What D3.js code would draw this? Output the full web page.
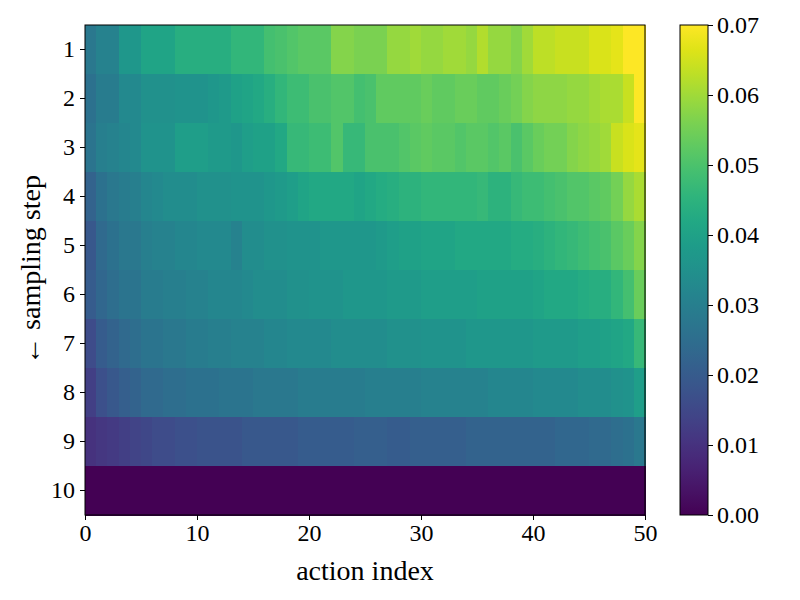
<!DOCTYPE html>
<html><head><meta charset="utf-8">
<script src="https://cdn.jsdelivr.net/npm/d3@7"></script>
<style>body{margin:0;background:#fff}text{font-family:"Liberation Serif",serif}</style>
</head><body><svg id="c" width="800" height="600"></svg>
<script>
const rowLabels=["1","2","3","4","5","6","7","8","9","10"];
const row1=[0.028,0.031,0.031,0.037,0.037,0.041,0.041,0.041,0.044,0.044,0.044,0.044,0.044,0.046,0.046,0.046,0.049,0.050,0.051,0.052,0.052,0.052,0.057,0.057,0.056,0.056,0.056,0.059,0.059,0.060,0.059,0.059,0.060,0.060,0.059,0.062,0.059,0.059,0.057,0.060,0.063,0.063,0.064,0.064,0.064,0.066,0.066,0.067,0.070,0.070];
const row2=[0.026,0.029,0.029,0.033,0.033,0.035,0.035,0.035,0.036,0.036,0.036,0.037,0.038,0.040,0.041,0.042,0.044,0.046,0.048,0.048,0.050,0.050,0.051,0.051,0.049,0.050,0.053,0.053,0.053,0.053,0.054,0.053,0.053,0.054,0.054,0.053,0.053,0.054,0.055,0.057,0.058,0.058,0.058,0.059,0.059,0.060,0.061,0.061,0.064,0.070];
const row3=[0.027,0.030,0.031,0.032,0.033,0.036,0.036,0.036,0.039,0.039,0.039,0.038,0.038,0.037,0.039,0.040,0.040,0.042,0.047,0.047,0.048,0.048,0.051,0.047,0.047,0.050,0.050,0.050,0.051,0.052,0.053,0.052,0.052,0.051,0.052,0.052,0.051,0.052,0.050,0.052,0.054,0.055,0.055,0.057,0.058,0.059,0.060,0.064,0.066,0.067];
const row4=[0.022,0.026,0.028,0.029,0.030,0.032,0.033,0.034,0.034,0.034,0.035,0.035,0.035,0.036,0.036,0.036,0.037,0.038,0.039,0.041,0.042,0.042,0.042,0.042,0.041,0.042,0.043,0.044,0.045,0.045,0.046,0.046,0.046,0.046,0.046,0.047,0.045,0.045,0.047,0.048,0.048,0.049,0.050,0.051,0.051,0.052,0.053,0.055,0.059,0.061];
const row5=[0.019,0.024,0.026,0.028,0.028,0.030,0.031,0.031,0.032,0.032,0.033,0.033,0.033,0.031,0.034,0.034,0.035,0.035,0.036,0.036,0.036,0.037,0.037,0.037,0.037,0.037,0.038,0.039,0.040,0.040,0.041,0.041,0.041,0.042,0.042,0.042,0.042,0.042,0.043,0.043,0.044,0.045,0.046,0.047,0.048,0.049,0.050,0.052,0.054,0.057];
const row6=[0.020,0.023,0.025,0.027,0.027,0.029,0.029,0.030,0.030,0.031,0.031,0.032,0.032,0.032,0.033,0.034,0.034,0.034,0.035,0.035,0.036,0.036,0.036,0.037,0.037,0.037,0.037,0.038,0.038,0.038,0.039,0.039,0.039,0.039,0.039,0.040,0.040,0.040,0.040,0.040,0.041,0.042,0.042,0.042,0.043,0.044,0.044,0.046,0.049,0.054];
const row7=[0.016,0.020,0.022,0.024,0.025,0.027,0.027,0.028,0.028,0.029,0.029,0.030,0.030,0.031,0.031,0.031,0.032,0.032,0.033,0.033,0.033,0.033,0.034,0.034,0.034,0.034,0.034,0.035,0.035,0.035,0.036,0.036,0.036,0.036,0.037,0.037,0.037,0.037,0.037,0.037,0.038,0.038,0.038,0.038,0.039,0.039,0.040,0.041,0.042,0.047];
const row8=[0.013,0.017,0.019,0.021,0.022,0.024,0.024,0.025,0.025,0.026,0.026,0.026,0.027,0.027,0.027,0.028,0.028,0.028,0.028,0.029,0.029,0.029,0.029,0.029,0.029,0.030,0.030,0.030,0.030,0.030,0.031,0.031,0.031,0.031,0.031,0.031,0.032,0.032,0.032,0.032,0.033,0.033,0.033,0.033,0.034,0.034,0.034,0.035,0.036,0.039];
const row9=[0.010,0.011,0.012,0.013,0.014,0.015,0.016,0.016,0.017,0.017,0.018,0.018,0.018,0.018,0.019,0.019,0.019,0.019,0.019,0.020,0.020,0.020,0.020,0.020,0.021,0.021,0.021,0.020,0.020,0.021,0.021,0.021,0.021,0.021,0.022,0.022,0.022,0.022,0.022,0.022,0.022,0.022,0.023,0.023,0.023,0.024,0.024,0.025,0.026,0.028];
const row10=new Array(50).fill(0);
const rows=[row1,row2,row3,row4,row5,row6,row7,row8,row9,row10];
const xTicks=[0,10,20,30,40,50];
const cTicks=[0,0.01,0.02,0.03,0.04,0.05,0.06,0.07];

const svg=d3.select("#c");
const L=85,R=645,T=25,B=515;
const x=d3.scaleLinear().domain([0,50]).range([L,R]);
const y=d3.scaleBand().domain(rowLabels).range([T,B]).padding(0);
const col=d3.scaleSequential(d3.interpolateViridis).domain([0,0.07]);
const cells=[];rows.forEach((r,i)=>r.forEach((v,j)=>cells.push({r:rowLabels[i],j,v})));
svg.append("g").selectAll("rect").data(cells).join("rect")
 .attr("x",d=>x(d.j)).attr("y",d=>y(d.r)).attr("width",x(1)-x(0)+0.5).attr("height",y.bandwidth()+0.5)
 .attr("fill",d=>col(d.v)).attr("shape-rendering","crispEdges");
svg.append("rect").attr("x",L).attr("y",T).attr("width",R-L).attr("height",B-T).attr("fill","none").attr("stroke","#000");
const ax=svg.append("g").attr("transform",`translate(0,${B})`).call(d3.axisBottom(x).tickValues(xTicks).tickSize(5).tickPadding(4));
const ay=svg.append("g").attr("transform",`translate(${L},0)`).call(d3.axisLeft(y).tickSize(5).tickPadding(5));
[ax,ay].forEach(a=>{a.select(".domain").remove();a.selectAll("text").style("font-family","Liberation Serif").style("font-size","24px").attr("fill","#000");});
svg.append("text").attr("x",365).attr("y",580).attr("text-anchor","middle").style("font-size","28px").text("action index");
svg.append("text").attr("transform","translate(40,270) rotate(-90)").attr("text-anchor","middle").style("font-size","28px").text("← sampling step");
// colorbar
const cy=d3.scaleLinear().domain([0,0.07]).range([B,T]);
const defs=svg.append("defs");const g=defs.append("linearGradient").attr("id","cb").attr("x1",0).attr("x2",0).attr("y1",1).attr("y2",0);
d3.range(0,1.001,0.05).forEach(t=>g.append("stop").attr("offset",t).attr("stop-color",d3.interpolateViridis(t)));
svg.append("rect").attr("x",680).attr("y",T).attr("width",28).attr("height",B-T).attr("fill","url(#cb)").attr("stroke","#000");
const ac=svg.append("g").attr("transform","translate(708,0)").call(d3.axisRight(cy).tickValues(cTicks).tickFormat(d3.format(".2f")).tickSize(5).tickPadding(4));
ac.select(".domain").remove();ac.selectAll("text").style("font-family","Liberation Serif").style("font-size","24px").attr("fill","#000");
</script></body></html>
